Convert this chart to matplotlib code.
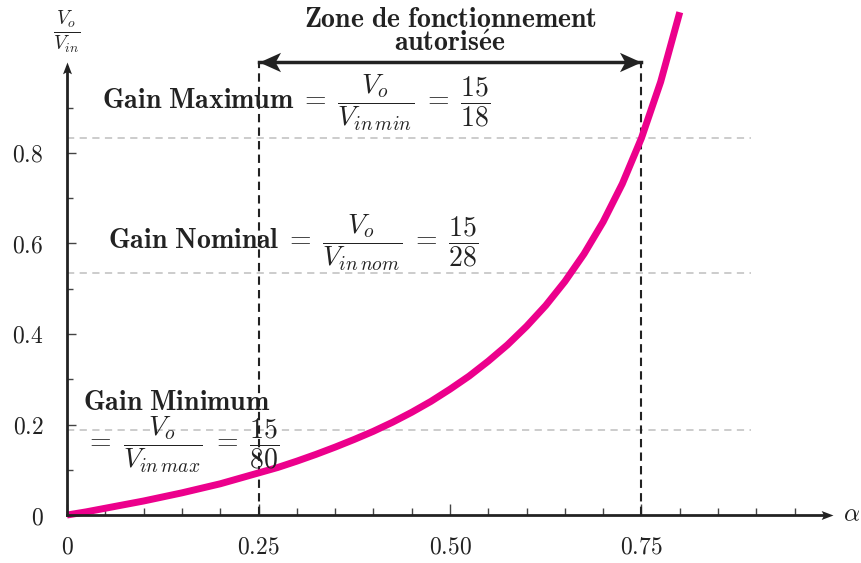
import matplotlib
matplotlib.use("Agg")
import matplotlib.pyplot as plt
from matplotlib.ticker import FixedLocator, FixedFormatter
from matplotlib.path import Path

plt.rcParams['mathtext.fontset'] = 'cm'
plt.rcParams['font.family'] = ['DejaVu Serif']

# ---- data ----
alpha = [0, 0.025, 0.05, 0.075, 0.1, 0.125, 0.15, 0.175, 0.2, 0.225, 0.25,
         0.275, 0.3, 0.325, 0.35, 0.375, 0.4, 0.425, 0.45, 0.475, 0.5,
         0.525, 0.55, 0.575, 0.6, 0.625, 0.65, 0.675, 0.7, 0.725, 0.75,
         0.775, 0.8]
gain = [0.0, 0.007, 0.015, 0.023, 0.031, 0.040, 0.049, 0.059, 0.069, 0.081, 0.093,
        0.105, 0.119, 0.134, 0.150, 0.167, 0.185, 0.205, 0.227, 0.251, 0.278,
        0.307, 0.340, 0.376, 0.417, 0.463, 0.516, 0.577, 0.648, 0.732, 0.833,
        0.957, 1.111]

gain_levels = [15/18, 15/28, 15/80]
zone_bounds = [0.25, 0.75]
xticks_major = [0, 0.25, 0.5, 0.75]
xtick_labels = ['0', '0.25', '0.50', '0.75']
xticks_minor = [0.05, 0.1, 0.15, 0.2, 0.3, 0.35, 0.4, 0.45, 0.55, 0.6, 0.65, 0.7,
                0.8, 0.85, 0.9, 0.95]
yticks_major = [0, 0.2, 0.4, 0.6, 0.8]
ytick_labels = ['0', '0.2', '0.4', '0.6', '0.8']
yticks_minor = [0.1, 0.3, 0.5, 0.7, 0.9]

MAGENTA = '#EC008C'
DARK = '#222222'

def stealth(direction, hw=0.45, notch=0.75):
    v = [(0, 0), (-1, hw), (-notch, 0), (-1, -hw), (0, 0)]
    if direction == 'left':
        v = [(-x, y) for x, y in v]
    elif direction == 'up':
        v = [(-y, x) for x, y in v]
    return Path(v, [Path.MOVETO, Path.LINETO, Path.LINETO, Path.LINETO, Path.CLOSEPOLY])

fig = plt.figure(figsize=(8.61, 5.63), dpi=100)
ax = fig.add_axes([0, 0, 1, 1])
ax.set_facecolor('none')
ax.set_xlim(-0.0875, 1.0366)
ax.set_ylim(-0.106, 1.138)

# spines as axes through origin
for s in ['top', 'right']:
    ax.spines[s].set_visible(False)
ax.spines['left'].set_position(('data', 0))
ax.spines['bottom'].set_position(('data', 0))
ax.spines['left'].set_bounds(0, 0.99)
ax.spines['bottom'].set_bounds(0, 0.99)
for s in ['left', 'bottom']:
    ax.spines[s].set_linewidth(2.0)
    ax.spines[s].set_color(DARK)
    ax.spines[s].set_zorder(4)
# arrow heads of axes
ax.plot([1.0], [0], marker=stealth('right', hw=0.38, notch=0.8), ms=17,
        color=DARK, mec=DARK, mew=0, clip_on=False, zorder=5)
ax.plot([0], [1.0], marker=stealth('up', hw=0.38, notch=0.8), ms=17,
        color=DARK, mec=DARK, mew=0, clip_on=False, zorder=5)

ax.xaxis.set_major_locator(FixedLocator(xticks_major))
ax.xaxis.set_major_formatter(FixedFormatter(['$' + t + '$' for t in xtick_labels]))
ax.xaxis.set_minor_locator(FixedLocator(xticks_minor))
ax.yaxis.set_major_locator(FixedLocator(yticks_major))
ax.yaxis.set_major_formatter(FixedFormatter(['$' + t + '$' for t in ytick_labels]))
ax.yaxis.set_minor_locator(FixedLocator(yticks_minor))
ax.tick_params(which='both', direction='in', color='#444444', width=1.0,
               labelsize=17, labelcolor=DARK)
ax.tick_params(axis='x', which='major', length=8, pad=15)
ax.tick_params(axis='x', which='minor', length=5)
ax.tick_params(axis='y', which='major', length=6.5, pad=17)
ax.tick_params(axis='y', which='minor', length=4)

# gain reference lines
for g in gain_levels:
    ax.plot([0, 0.893], [g, g], color='#c8c8c8', lw=1.3, ls=(0, (4, 3)), zorder=1)

# zone limits
for b in zone_bounds:
    ax.plot([b, b], [0, 1.0], color=DARK, lw=1.5, ls=(0, (4, 2.5)), zorder=2)
ax.plot(zone_bounds, [1.0, 1.0], color=DARK, lw=2.5, zorder=3)
ax.plot([zone_bounds[0]], [1.0], marker=stealth('left'), ms=31, color=DARK,
        mew=0, zorder=4)
ax.plot([zone_bounds[1]], [1.0], marker=stealth('right'), ms=31, color=DARK,
        mew=0, zorder=4)
ax.text(0.5, 1.069,
        '$\\mathbf{Zone\\ de\\ fonctionnement}$\n$\\mathbf{autoris\\acute{e}e}$',
        ha='center', va='center', multialignment='center', linespacing=0.85,
        fontsize=20, color=DARK)

# curve
ax.plot(alpha, gain, color=MAGENTA, lw=5, solid_capstyle='butt', zorder=3)

# labels
FS = 20
ax.text(0.0453, 0.897,
        r'$\mathbf{Gain\ Maximum}\;=\;\dfrac{V_o}{V_{in}{}_{min}}\;=\;\dfrac{15}{18}$',
        ha='left', va='baseline', fontsize=FS, color=DARK)
ax.text(0.0535, 0.586,
        r'$\mathbf{Gain\ Nominal}\;=\;\dfrac{V_o}{V_{in}{}_{nom}}\;=\;\dfrac{15}{28}$',
        ha='left', va='baseline', fontsize=FS, color=DARK)
ax.text(0.0209, 0.232, r'$\mathbf{Gain\ Minimum}$',
        ha='left', va='baseline', fontsize=FS, color=DARK)
ax.text(0.0235, 0.141, r'$=\;\dfrac{V_o}{V_{in}{}_{max}}\;=\;\dfrac{15}{80}$',
        ha='left', va='baseline', fontsize=FS, color=DARK)

ax.text(0.0, 1.067, r'$\frac{V_o}{V_{in}}$', ha='center', va='center',
        fontsize=20, color=DARK)
ax.text(1.024, 0.0, r'$\alpha$', ha='center', va='center', fontsize=18, color=DARK)

fig.savefig('out.png', dpi=100)
